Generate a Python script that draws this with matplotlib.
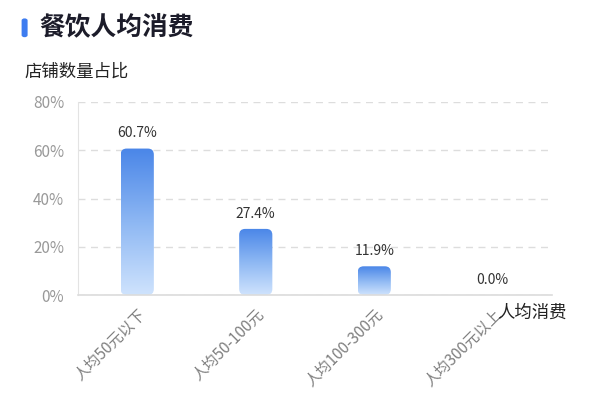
import numpy as np
import matplotlib
matplotlib.use("Agg")
import matplotlib.pyplot as plt
from matplotlib.patches import FancyBboxPatch
from matplotlib.colors import LinearSegmentedColormap

plt.rcParams['font.family'] = ['Noto Sans CJK SC', 'DejaVu Sans']

# data
categories = ["人均50元以下", "人均50-100元", "人均100-300元", "人均300元以上"]
shares = [60.7, 27.4, 11.9, 0.0]
y_ticks = [0, 20, 40, 60, 80]

title = "餐饮人均消费"
y_name = "店铺数量占比"
x_name = "人均消费"

fig = plt.figure(figsize=(6, 4), dpi=100)
ax = fig.add_axes([0.13, 0.2625, 0.79, 0.4825])

n = len(categories)
x = np.arange(n)
bar_w = 0.28
ax.set_xlim(-0.5, n - 0.5)
ax.set_ylim(0, 80)

# gradient for the bars (dark blue on top, pale at bottom)
cmap = LinearSegmentedColormap.from_list("bars", ["#cfe3fd", "#8db7f3", "#4a86e8"])
grad = np.linspace(0, 1, 256).reshape(-1, 1)

# rounding radius in pixels -> data units
fig.canvas.draw()
px_x = (ax.transData.transform((1, 0))[0] - ax.transData.transform((0, 0))[0])
px_y = (ax.transData.transform((0, 1))[1] - ax.transData.transform((0, 0))[1])
radius_px = 6
aspect = px_x / px_y

for xi, v in zip(x, shares):
    if v > 0:
        r = min(radius_px / px_x, v * px_y / px_x / 2)
        patch = FancyBboxPatch((xi - bar_w / 2, 0), bar_w, v,
                               boxstyle="round,pad=0,rounding_size=%f" % r,
                               mutation_aspect=aspect,
                               facecolor="none", edgecolor="none")
        ax.add_patch(patch)
        im = ax.imshow(grad, cmap=cmap, aspect="auto", origin="lower",
                       extent=(xi - bar_w / 2, xi + bar_w / 2, 0, v), zorder=2)
        im.set_clip_path(patch)
    ax.annotate("%.1f%%" % v, (xi, v), xytext=(0, 6), textcoords="offset points",
                ha="center", va="bottom", fontsize=10, color="#333333")

ax.set_xlim(-0.5, n - 0.5)
ax.set_ylim(0, 80)

# axes styling
ax.set_yticks(y_ticks)
ax.set_yticklabels(["%d%%" % t for t in y_ticks], fontsize=11, color="#999999")
ax.set_xticks(x)
ax.set_xticklabels(categories, rotation=45, ha="right", va="top",
                   rotation_mode="anchor", fontsize=11, color="#808080")
ax.tick_params(axis="both", length=0)
ax.tick_params(axis="y", pad=10)
ax.tick_params(axis="x", pad=8)
ax.grid(axis="y", linestyle=(0, (5, 4)), color="#dddddd", linewidth=1)
ax.set_axisbelow(True)
for s in ["top", "right"]:
    ax.spines[s].set_visible(False)
ax.spines["left"].set_color("#e3e3e3")
ax.spines["bottom"].set_color("#dcdcdc")
ax.spines["bottom"].set_linewidth(1.2)

# axis names
fig.text(0.04, 0.82, y_name, fontsize=12.5, color="#222222", va="center")
fig.text(0.828, 0.217, x_name, fontsize=12.5, color="#222222", va="center")

# title with blue marker
marker = FancyBboxPatch((0.036, 0.907), 0.01, 0.047,
                        boxstyle="round,pad=0,rounding_size=0.005",
                        transform=fig.transFigure, facecolor="#3d7cf0",
                        edgecolor="none")
fig.patches.append(marker)
fig.text(0.065, 0.932, title, fontsize=18.5, fontweight="bold",
         color="#1c1c2a", va="center")

fig.savefig("out.png", dpi=100, facecolor="white")
